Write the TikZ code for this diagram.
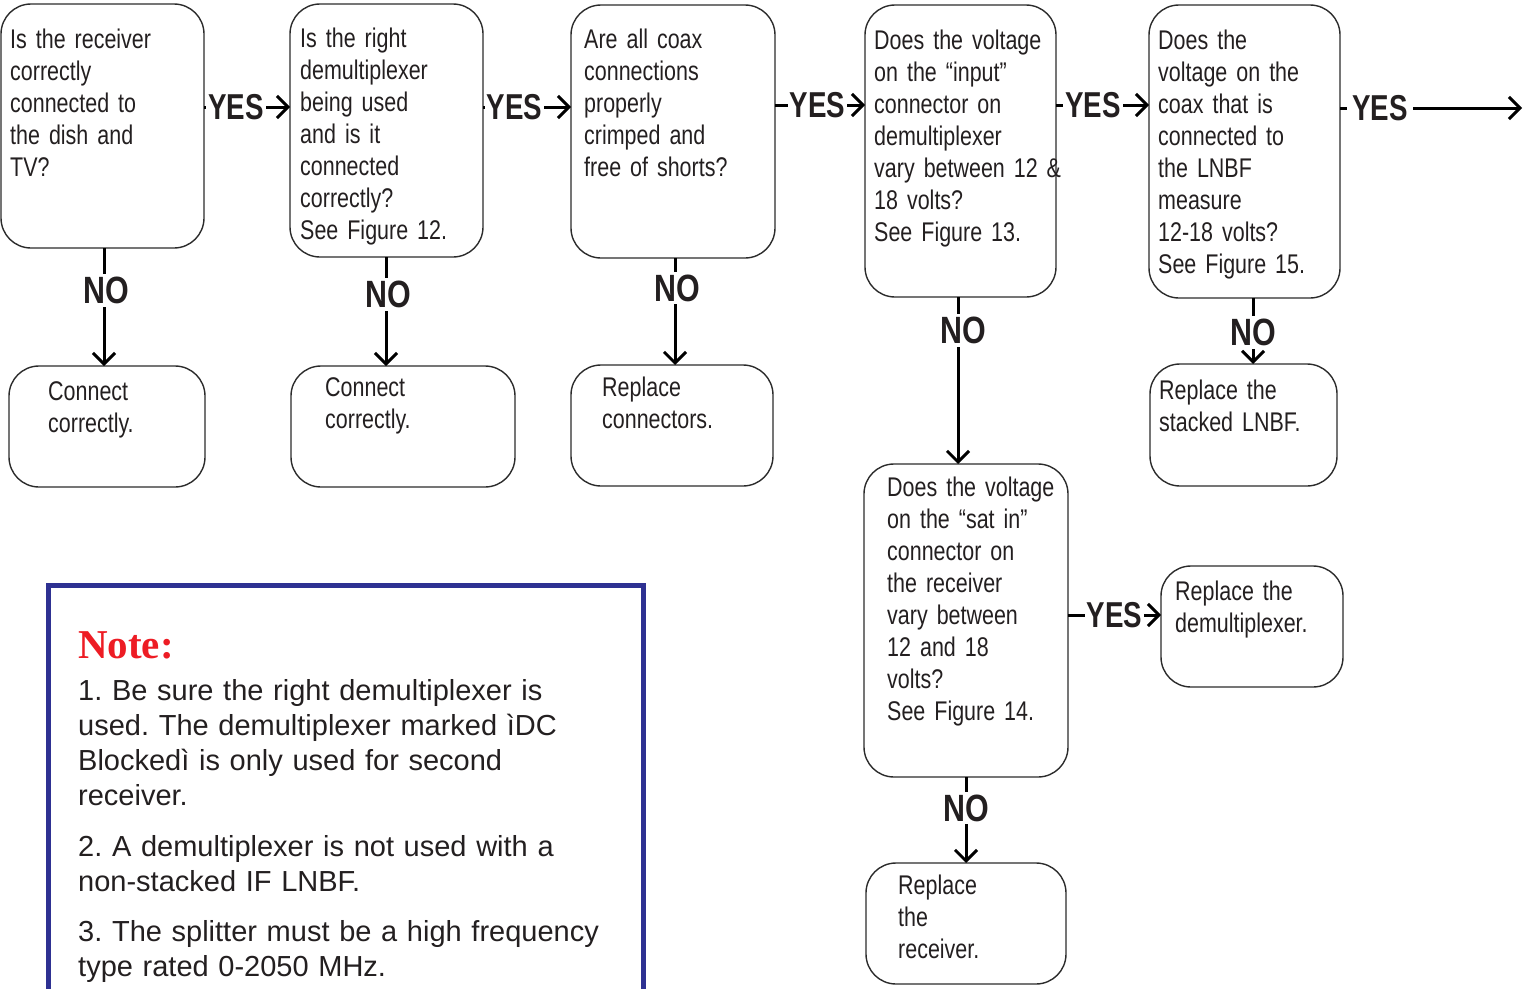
\documentclass[tikz,border=0pt]{standalone}
\usepackage{fontspec}
\setmainfont{Liberation Sans}
\newfontfamily\condfont[FakeStretch=0.795]{Liberation Sans}
\newfontfamily\answerfont[FakeStretch=0.77]{Liberation Sans}
\newfontfamily\nofont[FakeStretch=0.8]{Liberation Sans}
\newfontfamily\notehead{Liberation Serif}
\usetikzlibrary{arrows.meta}
\definecolor{noteblue}{HTML}{2E3192}
\definecolor{notered}{HTML}{ED1C24}
\definecolor{edge}{HTML}{2B2B2B}
\definecolor{ink}{HTML}{231F20}
\frenchspacing
% condensed box text with slightly tighter word spacing
\newcommand\boxtextfont{\condfont\fontsize{27}{32}\selectfont\spaceskip=4.6pt plus 1pt\relax}
\begin{document}
\begin{tikzpicture}[x=1pt,y=-1pt,
  qbox/.style={draw=edge, line width=1.4pt, rounded corners=30pt, inner sep=0pt, outer sep=0pt},
  qtext/.style={anchor=base west, inner sep=0pt, text width=260pt, align=left, text=ink,
    font=\boxtextfont},
  flow/.style={line width=3pt, -{Straight Barb[length=11pt,width=22pt,line width=3pt]}},
  yeslbl/.style={fill=white, inner xsep=2pt, inner ysep=0pt, text=ink,
    font=\answerfont\bfseries\fontsize{36}{36}\selectfont},
  nolbl/.style={fill=white, inner xsep=0pt, inner ysep=3pt, text=ink,
    font=\nofont\bfseries\fontsize{38}{38}\selectfont}]
\useasboundingbox (0,0) rectangle (1526,988);
\clip (0,0) rectangle (1526,988);

% question boxes, top row
\node[qbox, minimum width=203pt, minimum height=244pt] (q1) at (102.5,126) {};
\node[qbox, minimum width=193pt, minimum height=253pt] (q2) at (386.5,130.5) {};
\node[qbox, minimum width=204pt, minimum height=253pt] (q3) at (673,131.5) {};
\node[qbox, minimum width=191pt, minimum height=292pt] (q4) at (960.5,151) {};
\node[qbox, minimum width=191pt, minimum height=293pt] (q5) at (1244.5,151.5) {};
% second level question
\node[qbox, minimum width=204pt, minimum height=313pt] (q6) at (966,620.5) {};

% action boxes
\node[qbox, minimum width=196pt, minimum height=121pt] (a1) at (107,426.5) {};
\node[qbox, minimum width=224pt, minimum height=121pt] (a2) at (403,426.5) {};
\node[qbox, minimum width=202pt, minimum height=121pt] (a3) at (672,425.5) {};
\node[qbox, minimum width=187pt, minimum height=122pt] (a5) at (1243.5,425) {};
\node[qbox, minimum width=182pt, minimum height=121pt] (a6) at (1252,626.5) {};
\node[qbox, minimum width=200pt, minimum height=121pt] (a7) at (966,923.5) {};

% box texts
\node[qtext] (t1) at (10,48) {Is the receiver\\correctly\\connected to\\the dish and\\TV?};
\node[qtext] (t2) at (300,47) {Is the right\\demultiplexer\\being used\\and is it\\connected\\correctly?\\See Figure 12.};
\node[qtext] (t3) at (584,48) {Are all coax\\connections\\properly\\crimped and\\free of shorts?};
\node[qtext] (t4) at (874,49) {Does the voltage\\on the “input”\\connector on\\demultiplexer\\vary between 12 \&\\18 volts?\\See Figure 13.};
\node[qtext] (t5) at (1158,49) {Does the\\voltage on the\\coax that is\\connected to\\the LNBF\\measure\\12-18 volts?\\See Figure 15.};
\node[qtext] (t6) at (887,496) {Does the voltage\\on the “sat in”\\connector on\\the receiver\\vary between\\12 and 18\\volts?\\See Figure 14.};
\node[qtext] (s1) at (48,400) {Connect\\correctly.};
\node[qtext] (s2) at (325,396) {Connect\\correctly.};
\node[qtext] (s3) at (602,396) {Replace\\connectors.};
\node[qtext] (s5) at (1159,399) {Replace the\\stacked LNBF.};
\node[qtext] (s6) at (1175,600) {Replace the\\demultiplexer.};
\node[qtext] (s7) at (898,894) {Replace\\the\\receiver.};

% connector rows and columns
\coordinate (r1) at (0,107);
\coordinate (r2) at (0,107);
\coordinate (r3) at (0,105);
\coordinate (r4) at (0,105);
\coordinate (r5) at (0,108);
\coordinate (r6) at (0,615);
\coordinate (c1) at (104,0);
\coordinate (c2) at (386,0);
\coordinate (c3) at (675,0);
\coordinate (c4) at (958,0);
\coordinate (c5) at (1253,0);
\coordinate (c6) at (966,0);
\coordinate (outend) at (1522,108);

% YES connectors
\draw[flow] (q1.east |- r1) -- node[yeslbl, pos=.37] {YES} (q2.west |- r1);
\draw[flow] (q2.east |- r2) -- node[yeslbl, pos=.36] {YES} (q3.west |- r2);
\draw[flow] (q3.east |- r3) -- node[yeslbl, pos=.47] {YES} (q4.west |- r3);
\draw[flow] (q4.east |- r4) -- node[yeslbl, pos=.40] {YES} (q5.west |- r4);
\draw[flow] (q5.east |- r5) -- node[yeslbl, pos=.22, inner xsep=5pt] {YES} (outend);
\draw[flow] (q6.east |- r6) -- node[yeslbl, pos=.50] {YES} (a6.west |- r6);

% NO connectors
\draw[flow] (q1.south -| c1) -- node[nolbl, pos=.36, xshift=2pt] {NO} (a1.north -| c1);
\draw[flow] (q2.south -| c2) -- node[nolbl, pos=.34, xshift=2pt] {NO} (a2.north -| c2);
\draw[flow] (q3.south -| c3) -- node[nolbl, pos=.28, xshift=2pt] {NO} (a3.north -| c3);
\draw[flow] (q4.south -| c4) -- node[nolbl, pos=.20, xshift=5pt] {NO} (q6.north -| c4);
\draw[flow] (q5.south -| c5) -- node[nolbl, pos=.52] {NO} (a5.north -| c5);
\draw[flow] (q6.south -| c6) -- node[nolbl, pos=.36] {NO} (a7.north -| c6);

% note panel
\draw[noteblue, line width=5pt] (48,1000) -- (48,585) -- (643,585) -- (643,1000);
\node[anchor=base west, inner sep=0pt, text=notered,
  font=\notehead\bfseries\fontsize{41}{41}\selectfont] (notetitle) at (78,658) {Note:};
\node[anchor=base west, inner sep=0pt, text width=560pt, align=left, text=ink,
  font=\fontsize{29}{35}\selectfont] (notebody) at (78,700)
  {1. Be sure the right demultiplexer is\\used. The demultiplexer marked ìDC\\Blockedì is only used for second\\receiver.\\[16pt]
   2. A demultiplexer is not used with a\\non-stacked IF LNBF.\\[15pt]
   3. The splitter must be a high frequency\\type rated 0-2050 MHz.};
\end{tikzpicture}
\end{document}
